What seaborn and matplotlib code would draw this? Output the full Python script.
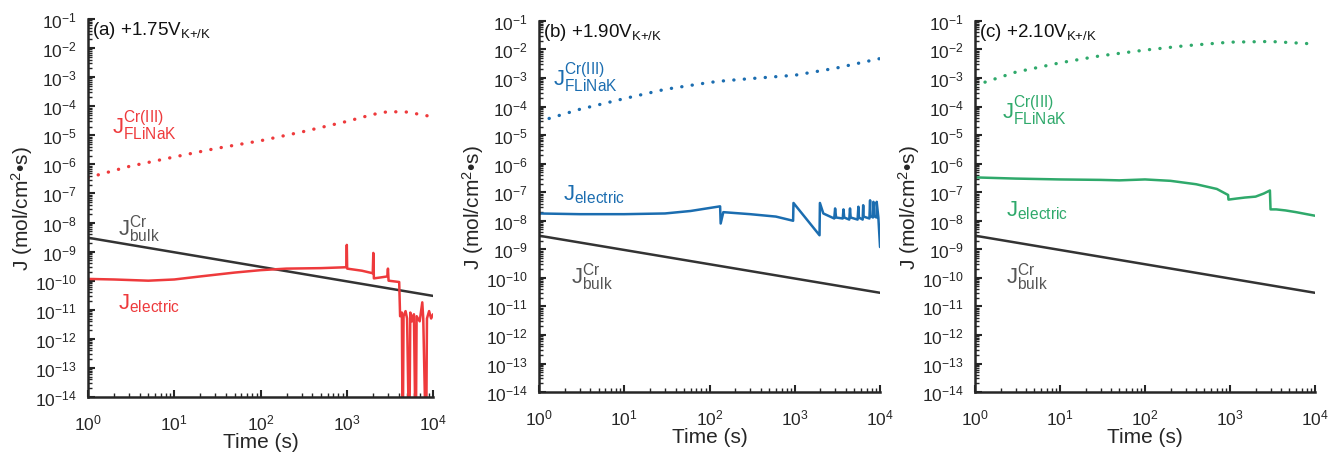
import numpy as np
import pandas as pd
import matplotlib
matplotlib.use("Agg")
import matplotlib.pyplot as plt
import seaborn as sns

# bulk diffusion flux, same in all three panels
t_bulk = [1, 1e4]
j_bulk = [3.0e-9, 3.0e-11]

# (a) +1.75 V
t_flinak_a = [1, 3, 10, 30, 100, 300, 1000, 2000, 3000, 5000, 10000]
j_flinak_a = [3.5e-7, 8.5e-7, 1.8e-6, 3.5e-6, 6.5e-6, 1.3e-5, 3.0e-5, 5.2e-5, 6.5e-5, 6.3e-5, 4.3e-5]
t_elec_a = [1, 2, 5, 10, 20, 50, 100, 200, 500, 990, 1000, 1010, 1500, 2000, 2030, 2060,
            2500, 2950, 3000, 3050, 4050, 4150, 4350, 4450, 4550, 4800, 5000, 5300, 5450,
            5700, 6000, 6300, 6450, 7000, 7500, 7700, 8300, 8500, 9000, 9500, 10000]
j_elec_a = [1.15e-10, 1.1e-10, 1.0e-10, 1.1e-10, 1.4e-10, 1.9e-10, 2.3e-10, 2.6e-10, 2.7e-10,
            2.9e-10, 1.7e-9, 2.6e-10, 2.2e-10, 1.8e-10, 9e-10, 1.2e-10, 1.3e-10, 1.4e-10,
            2.6e-10, 1.0e-10, 9e-11, 6e-12, 8e-12, 1e-16, 6e-12, 9e-12, 5e-12, 1e-16, 8e-12,
            4e-12, 7e-12, 1e-16, 6e-12, 4e-12, 1.8e-11, 5e-12, 1e-16, 5e-12, 9e-12, 5e-12, 7e-12]

# (b) +1.90 V
t_flinak_b = [1, 3, 10, 30, 100, 150, 300, 1000, 3000, 10000]
j_flinak_b = [3.0e-5, 8.0e-5, 1.9e-4, 4.0e-4, 7.0e-4, 8.0e-4, 9.5e-4, 1.25e-3, 2.2e-3, 4.8e-3]
t_elec_b = [1, 3, 10, 30, 60, 100, 133, 135, 145, 300, 600, 955, 965, 1950, 1970, 2160,
            2900, 2970, 3050, 3650, 3720, 3800, 4350, 4440, 4520, 5450, 5570, 5650, 6250,
            6340, 6400, 7500, 7640, 7700, 8250, 8360, 8450, 9050, 9130, 9550, 10000]
j_elec_b = [1.8e-8, 1.7e-8, 1.7e-8, 1.8e-8, 2.2e-8, 2.8e-8, 3.2e-8, 8e-9, 2.0e-8, 1.7e-8,
            1.4e-8, 1.0e-8, 4.2e-8, 3.1e-9, 4.2e-8, 1.8e-8, 1.2e-8, 2.7e-8, 1.3e-8, 1.2e-8,
            2.5e-8, 1.3e-8, 1.1e-8, 2.7e-8, 1.3e-8, 1.1e-8, 3.1e-8, 1.3e-8, 1.1e-8, 3.5e-8,
            1.4e-8, 1.2e-8, 5.2e-8, 1.5e-8, 1.3e-8, 4.6e-8, 1.5e-8, 1.3e-8, 4.6e-8, 1.3e-8, 1.2e-9]

# (c) +2.10 V
t_flinak_c = [1, 3, 10, 30, 100, 300, 1000, 3000, 10000]
j_flinak_c = [5.5e-4, 1.6e-3, 3.4e-3, 6.0e-3, 9.5e-3, 1.35e-2, 1.8e-2, 1.9e-2, 1.55e-2]
t_elec_c = [1, 3, 10, 30, 50, 100, 200, 400, 700, 950, 960, 1200, 1500, 2000, 2500, 2950,
            3000, 3500, 4500, 6000, 8000, 10000]
j_elec_c = [3.3e-7, 3.0e-7, 2.8e-7, 2.7e-7, 2.6e-7, 2.8e-7, 2.5e-7, 1.9e-7, 1.3e-7, 8e-8,
            5.5e-8, 6e-8, 6.5e-8, 7e-8, 9e-8, 1.15e-7, 2.5e-8, 2.5e-8, 2.3e-8, 2.0e-8, 1.7e-8, 1.5e-8]

panel_titles = [r"(a) +1.75V$_\mathregular{K{+}/K}$", r"(b) +1.90V$_\mathregular{K{+}/K}$",
                r"(c) +2.10V$_\mathregular{K{+}/K}$"]
colors = ["#ee3a3c", "#1b6db0", "#2fa96b"]

sns.set_style("ticks")
plt.rcParams["font.family"] = ["Liberation Sans", "DejaVu Sans"]
plt.rcParams["mathtext.fontset"] = "custom"
plt.rcParams["mathtext.rm"] = "Liberation Sans"
plt.rcParams["mathtext.it"] = "Liberation Sans:italic"
plt.rcParams["mathtext.bf"] = "Liberation Sans:bold"

fig = plt.figure(figsize=(13.3, 4.56), dpi=100)
boxes = [[0.0662, 0.1272, 0.2594, 0.829],
         [0.4053, 0.138, 0.2564, 0.814],
         [0.7331, 0.138, 0.2556, 0.814]]

panels = [
    (t_flinak_a, j_flinak_a, t_elec_a, j_elec_a),
    (t_flinak_b, j_flinak_b, t_elec_b, j_elec_b),
    (t_flinak_c, j_flinak_c, t_elec_c, j_elec_c),
]

# label positions (t, J) for FLiNaK, electric, bulk
label_pos = [
    [(1.9, 10**-4.65), (2.2, 10**-10.75), (2.2, 10**-8.2)],
    [(1.45, 10**-2.95), (1.9, 10**-7.05), (2.4, 10**-9.95)],
    [(2.1, 10**-4.1), (2.3, 10**-7.6), (2.3, 10**-9.95)],
]

for i, (tf, jf, te, je) in enumerate(panels):
    ax = fig.add_axes(boxes[i])
    col = colors[i]
    df_f = pd.DataFrame({"t": tf, "J": jf})
    df_e = pd.DataFrame({"t": te, "J": je})
    df_b = pd.DataFrame({"t": t_bulk, "J": j_bulk})

    ax.set_xscale("log")
    ax.set_yscale("log")
    sns.lineplot(data=df_b, x="t", y="J", ax=ax, color="#333333", lw=1.8, estimator=None)
    sns.lineplot(data=df_e, x="t", y="J", ax=ax, color=col, lw=1.8, estimator=None, sort=False)
    sns.lineplot(data=df_f, x="t", y="J", ax=ax, color=col, lw=2.4, estimator=None,
                 dashes=False, linestyle=(0, (0.05, 3.1)), dash_capstyle="round")

    ax.set_xlim(1, 1e4)
    ax.set_ylim(1e-14, 1e-1)
    ax.yaxis.set_major_locator(matplotlib.ticker.LogLocator(base=10, numticks=20))
    ax.yaxis.set_minor_locator(matplotlib.ticker.LogLocator(base=10, subs=np.arange(2, 10), numticks=20))
    ax.xaxis.set_minor_locator(matplotlib.ticker.LogLocator(base=10, subs=np.arange(2, 10), numticks=20))
    ax.yaxis.set_minor_formatter(matplotlib.ticker.NullFormatter())
    ax.xaxis.set_minor_formatter(matplotlib.ticker.NullFormatter())
    ax.tick_params(which="major", direction="in", length=5, width=1.5, labelsize=12.5)
    ax.tick_params(axis="y", which="major", pad=8)
    ax.tick_params(axis="x", which="major", pad=11)
    ax.tick_params(which="minor", direction="in", length=3, width=1.0)
    sns.despine(ax=ax)
    for s in ["left", "bottom"]:
        ax.spines[s].set_linewidth(1.8)

    ax.set_xlabel("Time (s)", fontsize=15, labelpad=0)
    ax.set_ylabel("J (mol/cm$^\\mathregular{2}$•s)", fontsize=15, labelpad=0)

    ax.text(0.012, 0.972, panel_titles[i], transform=ax.transAxes, fontsize=13.5,
            ha="left", va="center", color="#111111")
    (xf, yf), (xe, ye), (xb, yb) = label_pos[i]
    ax.text(xf, yf, r"$\mathregular{J^{Cr(III)}_{FLiNaK}}$", color=col, fontsize=16,
            ha="left", va="center")
    ax.text(xe, ye, r"$\mathregular{J_{electric}}$", color=col, fontsize=16,
            ha="left", va="center")
    ax.text(xb, yb, r"$\mathregular{J^{Cr}_{bulk}}$", color="#555555", fontsize=16,
            ha="left", va="center")

fig.savefig("out.png", dpi=100)
